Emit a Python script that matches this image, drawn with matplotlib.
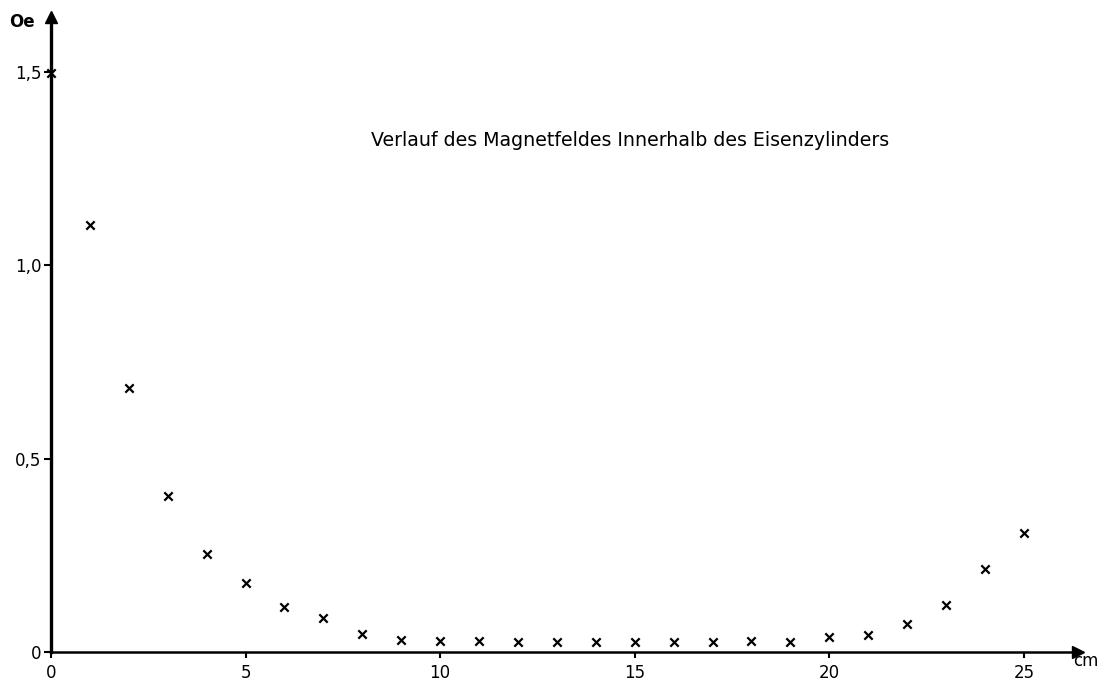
import matplotlib
matplotlib.use("Agg")
import matplotlib.pyplot as plt

# position along the iron cylinder (cm) and field strength (Oe)
pos_cm = [0, 1, 2, 3, 4, 5, 6, 7, 8, 9, 10, 11, 12, 13, 14, 15, 16, 17, 18, 19, 20, 21, 22, 23, 24, 25]
field_oe = [1.497, 1.104, 0.683, 0.403, 0.253, 0.178, 0.116, 0.088, 0.047, 0.030, 0.028, 0.028,
            0.026, 0.026, 0.026, 0.026, 0.026, 0.026, 0.028, 0.026, 0.039, 0.044, 0.072, 0.122,
            0.215, 0.308]

x_ticks = [0, 5, 10, 15, 20, 25]
x_labels = ["0", "5", "10", "15", "20", "25"]
y_ticks = [0, 0.5, 1.0, 1.5]
y_labels = ["0", "0,5", "1,0", "1,5"]

W, H = 1101, 683
fig = plt.figure(figsize=(W / 100, H / 100), dpi=100)
ax = fig.add_axes([51 / W, 31 / H, 1027 / W, 635 / H])

ax.scatter(pos_cm, field_oe, marker="x", s=36, color="black", linewidths=1.6,
           clip_on=False, zorder=5)

ax.set_xlim(0, 26.39)
ax.set_ylim(0, 1.642)

for side in ("top", "right"):
    ax.spines[side].set_visible(False)
ax.spines["left"].set_linewidth(2.4)
ax.spines["bottom"].set_linewidth(1.8)

# arrow heads at the ends of the axes
ax.plot(0, 1, marker="^", ms=9, color="black", transform=ax.transAxes, clip_on=False)
ax.plot(1, 0, marker=">", ms=8, color="black", transform=ax.transAxes, clip_on=False)

ax.set_xticks(x_ticks)
ax.set_xticklabels(x_labels)
ax.set_yticks(y_ticks)
ax.set_yticklabels(y_labels)
ax.tick_params(axis="x", direction="out", length=4, width=1.5, labelsize=12, pad=5)
ax.tick_params(axis="y", direction="out", length=5, width=1.5, labelsize=12, pad=2)

fig.text(22 / W, 1 - 22 / H, "Oe", fontsize=12, fontweight="bold", ha="center", va="center")
fig.text(1098 / W, 1 - 661 / H, "cm", fontsize=12, ha="right", va="center")

fig.text(630 / W, 1 - 140 / H, "Verlauf des Magnetfeldes Innerhalb des Eisenzylinders",
         fontsize=13.7, ha="center", va="center")

fig.savefig("out.png", dpi=100)
